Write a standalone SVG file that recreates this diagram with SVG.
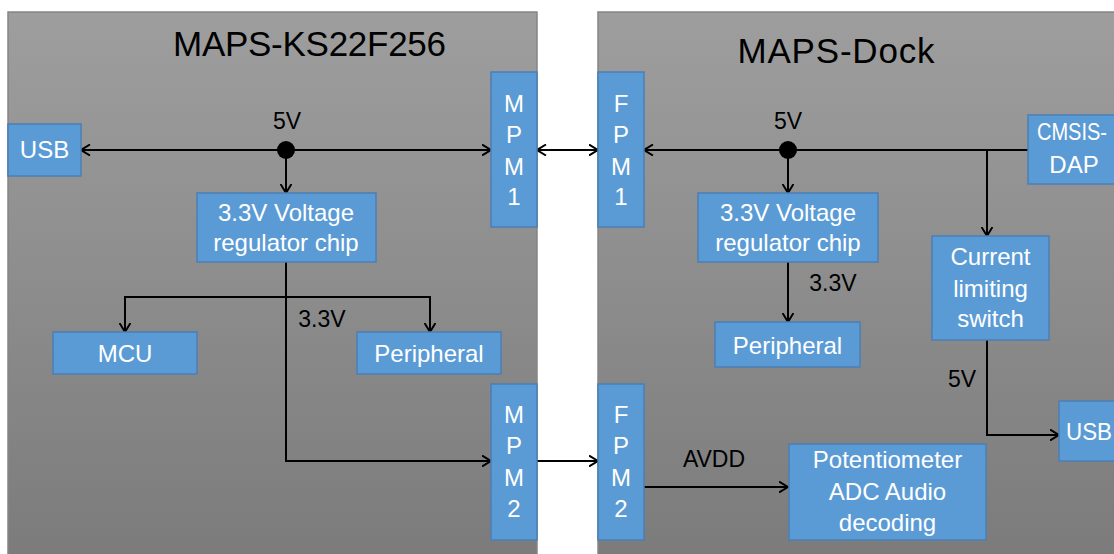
<svg xmlns="http://www.w3.org/2000/svg" width="1114" height="554" viewBox="0 0 1114 554">
<defs>
<linearGradient id="panelGrad" x1="0" y1="0" x2="0" y2="1">
<stop offset="0" stop-color="#9e9e9e"/>
<stop offset="1" stop-color="#7b7b7b"/>
</linearGradient>
<marker id="arr" viewBox="0 0 10 12" refX="9.5" refY="6" markerWidth="10" markerHeight="12" markerUnits="userSpaceOnUse" orient="auto-start-reverse">
<path d="M0.5,0.5 L9.5,6 L0.5,11.5" fill="none" stroke="#000" stroke-width="2"/>
</marker>
<style>
.panel{fill:url(#panelGrad);stroke:#858585;stroke-width:1.5}
.box{fill:#5b9bd5;stroke:#4a7fb5;stroke-width:1.5}
.bt{font-family:"Liberation Sans",Arial,sans-serif;font-size:24px;fill:#fff;text-anchor:middle}
.lbl{font-family:"Liberation Sans",Arial,sans-serif;font-size:23px;fill:#000;text-anchor:middle}
.title{font-family:"Liberation Sans",Arial,sans-serif;font-size:35px;fill:#000;text-anchor:middle}
.ln{fill:none;stroke:#000;stroke-width:2}
.a{marker-end:url(#arr)}
.aa{marker-start:url(#arr);marker-end:url(#arr)}
</style>
</defs>
<rect width="1114" height="554" fill="#fff"/>
<g id="panel-left">
<rect class="panel" x="8" y="12" width="529" height="550"/>
<text class="title" x="309.5" y="56" textLength="273">MAPS-KS22F256</text>
</g>
<g id="panel-right">
<rect class="panel" x="598" y="12" width="530" height="550"/>
<text class="title" x="836" y="63" textLength="197">MAPS-Dock</text>
</g>
<g id="connectors">
<line class="ln aa" x1="81" y1="150" x2="491" y2="150"/>
<circle cx="286" cy="150" r="9" fill="#000"/>
<line class="ln a" x1="286" y1="150" x2="286" y2="193"/>
<path class="ln a" d="M286,262 L286,461 L491,461"/>
<path class="ln a" d="M286,297 L125,297 L125,332"/>
<path class="ln a" d="M286,297 L430,297 L430,332"/>
<line class="ln aa" x1="537" y1="150" x2="598" y2="150"/>
<line class="ln a" x1="537" y1="461" x2="598" y2="461"/>
<line class="ln a" x1="1028" y1="150" x2="644" y2="150"/>
<circle cx="788" cy="150" r="9" fill="#000"/>
<line class="ln a" x1="788" y1="150" x2="788" y2="193"/>
<line class="ln a" x1="788" y1="262" x2="788" y2="322"/>
<line class="ln a" x1="987" y1="150" x2="987" y2="236"/>
<path class="ln a" d="M987,340 L987,435 L1059,435"/>
<line class="ln a" x1="644" y1="487" x2="788" y2="487"/>
<text class="lbl" x="287" y="129">5V</text>
<text class="lbl" x="322" y="327">3.3V</text>
<text class="lbl" x="788" y="129">5V</text>
<text class="lbl" x="833" y="291">3.3V</text>
<text class="lbl" x="962" y="387">5V</text>
<text class="lbl" x="714" y="467">AVDD</text>
</g>
<g id="usb-left">
<rect class="box" x="8" y="124" width="73" height="52"/>
<text class="bt" x="44.5" y="158">USB</text>
</g>
<g id="reg-left">
<rect class="box" x="197" y="193" width="179" height="69"/>
<text class="bt" x="286" y="221">3.3V Voltage</text>
<text class="bt" x="286" y="251">regulator chip</text>
</g>
<g id="mcu">
<rect class="box" x="53" y="332" width="144" height="42"/>
<text class="bt" x="125" y="362">MCU</text>
</g>
<g id="peripheral-left">
<rect class="box" x="357" y="332" width="144" height="42"/>
<text class="bt" x="429" y="362">Peripheral</text>
</g>
<g id="mpm1">
<rect class="box" x="491" y="72" width="46" height="155"/>
<text class="bt" x="514" y="112">M</text>
<text class="bt" x="514" y="143">P</text>
<text class="bt" x="514" y="175">M</text>
<text class="bt" x="514" y="205">1</text>
</g>
<g id="mpm2">
<rect class="box" x="491" y="384" width="46" height="156"/>
<text class="bt" x="514" y="423">M</text>
<text class="bt" x="514" y="454">P</text>
<text class="bt" x="514" y="486">M</text>
<text class="bt" x="514" y="517">2</text>
</g>
<g id="fpm1">
<rect class="box" x="598" y="72" width="46" height="155"/>
<text class="bt" x="621" y="112">F</text>
<text class="bt" x="621" y="143">P</text>
<text class="bt" x="621" y="175">M</text>
<text class="bt" x="621" y="205">1</text>
</g>
<g id="fpm2">
<rect class="box" x="598" y="384" width="46" height="156"/>
<text class="bt" x="621" y="423">F</text>
<text class="bt" x="621" y="454">P</text>
<text class="bt" x="621" y="486">M</text>
<text class="bt" x="621" y="517">2</text>
</g>
<g id="reg-right">
<rect class="box" x="698" y="193" width="180" height="69"/>
<text class="bt" x="788" y="221">3.3V Voltage</text>
<text class="bt" x="788" y="251">regulator chip</text>
</g>
<g id="peripheral-right">
<rect class="box" x="715" y="322" width="145" height="45"/>
<text class="bt" x="787.5" y="354">Peripheral</text>
</g>
<g id="cmsis-dap">
<rect class="box" x="1028" y="115" width="96" height="69"/>
<text class="bt" x="1072" y="140" textLength="70" lengthAdjust="spacingAndGlyphs">CMSIS-</text>
<text class="bt" x="1074" y="173">DAP</text>
</g>
<g id="current-switch">
<rect class="box" x="932" y="236" width="117" height="104"/>
<text class="bt" x="990.5" y="265">Current</text>
<text class="bt" x="990.5" y="297">limiting</text>
<text class="bt" x="990.5" y="327">switch</text>
</g>
<g id="usb-right">
<rect class="box" x="1059" y="401" width="74" height="60"/>
<text class="bt" x="1089" y="440" textLength="46" lengthAdjust="spacingAndGlyphs">USB</text>
</g>
<g id="potentiometer">
<rect class="box" x="789" y="444" width="197" height="96"/>
<text class="bt" x="887.5" y="468">Potentiometer</text>
<text class="bt" x="887.5" y="500">ADC Audio</text>
<text class="bt" x="887.5" y="531">decoding</text>
</g>
</svg>
